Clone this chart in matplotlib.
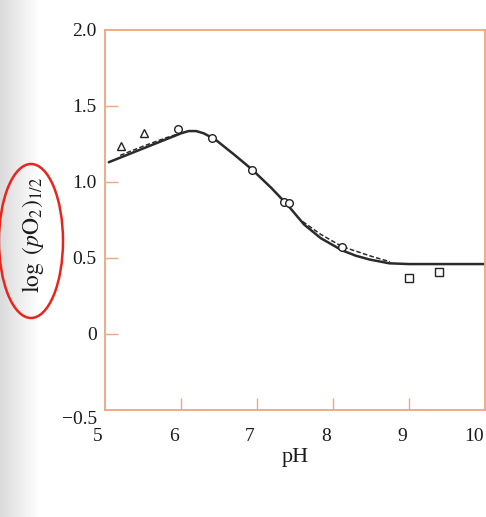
import matplotlib
matplotlib.use("Agg")
import matplotlib.pyplot as plt
import matplotlib.transforms as mtransforms
import numpy as np
from matplotlib.patches import Ellipse

# values
curve_ph = [5.05, 5.25, 5.5, 5.75, 6.0, 6.1, 6.2, 6.3, 6.45, 6.7, 6.94, 7.19, 7.4, 7.62, 7.84,
            8.12, 8.3, 8.48, 8.74, 9.0, 9.5, 10.0]
curve_log = [1.13, 1.17, 1.22, 1.27, 1.32, 1.335, 1.335, 1.32, 1.28, 1.18, 1.08, 0.96, 0.85,
             0.72, 0.63, 0.55, 0.515, 0.49, 0.465, 0.46, 0.46, 0.46]

dash_low_ph = [5.2, 5.5, 5.8, 6.05]
dash_low_log = [1.175, 1.235, 1.29, 1.33]
dash_high_ph = [7.6, 7.84, 8.12, 8.48, 8.75]
dash_high_log = [0.74, 0.655, 0.575, 0.515, 0.475]

tri_ph = [5.21, 5.51]
tri_log = [1.24, 1.32]
circ_ph = [5.96, 6.41, 6.94, 7.36, 7.42, 8.12]
circ_log = [1.35, 1.29, 1.08, 0.87, 0.86, 0.57]
sq_ph = [9.0, 9.4]
sq_log = [0.37, 0.41]

x_ticks = [5, 6, 7, 8, 9, 10]
y_ticks = [-0.5, 0, 0.5, 1.0, 1.5, 2.0]
y_tick_labels = ["\u22120.5", "0", "0.5", "1.0", "1.5", "2.0"]

plt.rcParams["font.family"] = "Liberation Serif"
plt.rcParams["mathtext.fontset"] = "stix"

frame = "#f0a57f"
ink = "#1a1a1a"

fig = plt.figure(figsize=(4.86, 5.17), dpi=100)

# shadow of the page at the left edge of the scan
bg = fig.add_axes([0, 0, 1, 1], zorder=-5)
shade = np.ones((2, 486))
shade[:, :40] = np.linspace(0.86, 1.0, 40)
bg.imshow(shade, cmap="gray", vmin=0, vmax=1, aspect="auto", extent=[0, 1, 0, 1])
bg.axis("off")

ax = fig.add_axes([0.216, 0.207, 0.782, 0.735])
ax.patch.set_alpha(0)

ax.plot(curve_ph, curve_log, color="#2b2b2b", lw=1.8, solid_capstyle="round", zorder=2)
ax.plot(dash_low_ph, dash_low_log, color="#2b2b2b", lw=1.1, ls=(0, (3, 1.5)), zorder=2)
ax.plot(dash_high_ph, dash_high_log, color="#2b2b2b", lw=1.1, ls=(0, (3, 1.5)), zorder=2)

ax.plot(tri_ph, tri_log, "^", ms=6, mfc="white", mec="#222222", mew=1.0, ls="none", zorder=3)
ax.plot(circ_ph, circ_log, "o", ms=5.5, mfc="white", mec="#222222", mew=1.0, ls="none", zorder=3)
ax.plot(sq_ph, sq_log, "s", ms=5.5, mfc="white", mec="#222222", mew=1.0, ls="none", zorder=3)

ax.set_xlim(5, 10)
ax.set_ylim(-0.5, 2.0)
ax.set_xticks(x_ticks)
ax.set_xticklabels([str(t) for t in x_ticks])
ax.set_yticks(y_ticks)
ax.set_yticklabels(y_tick_labels)

for s in ax.spines.values():
    s.set_color(frame)
    s.set_linewidth(1.3)

ax.tick_params(axis="both", direction="in", length=9, width=1.0, color=frame,
               labelsize=14, labelcolor=ink)
ax.tick_params(axis="x", pad=13)
ax.tick_params(axis="y", pad=6)
for t in [ax.xaxis.get_major_ticks()[0], ax.xaxis.get_major_ticks()[-1],
          ax.yaxis.get_major_ticks()[0], ax.yaxis.get_major_ticks()[-1]]:
    t.tick1line.set_visible(False)

# the printed x labels sit a little left of their ticks
xlabs = ax.get_xticklabels()
for i, lab in enumerate(xlabs):
    dx = -11 if i == len(xlabs) - 1 else -7
    shift = mtransforms.ScaledTranslation(dx / 100, 0, fig.dpi_scale_trans)
    lab.set_transform(lab.get_transform() + shift)
# the -0.5 label sits slightly below the corner
drop = mtransforms.ScaledTranslation(0, -8 / 100, fig.dpi_scale_trans)
ylab0 = ax.get_yticklabels()[0]
ylab0.set_transform(ylab0.get_transform() + drop)

ax.set_xlabel("pH", fontsize=16, color=ink, labelpad=2)
ax.set_ylabel(r"$\log\ (p\mathrm{O}_2)_{1/2}$", fontsize=17, color=ink)
ax.yaxis.set_label_coords(-0.155, 0.46)

# red hand-drawn mark around the axis label
fig.patches.append(Ellipse((31 / 486, 1 - 241 / 517), 64 / 486, 154 / 517,
                           transform=fig.transFigure, fill=False, ec="#e8251c", lw=1.8))

fig.savefig("out.png", dpi=100)
